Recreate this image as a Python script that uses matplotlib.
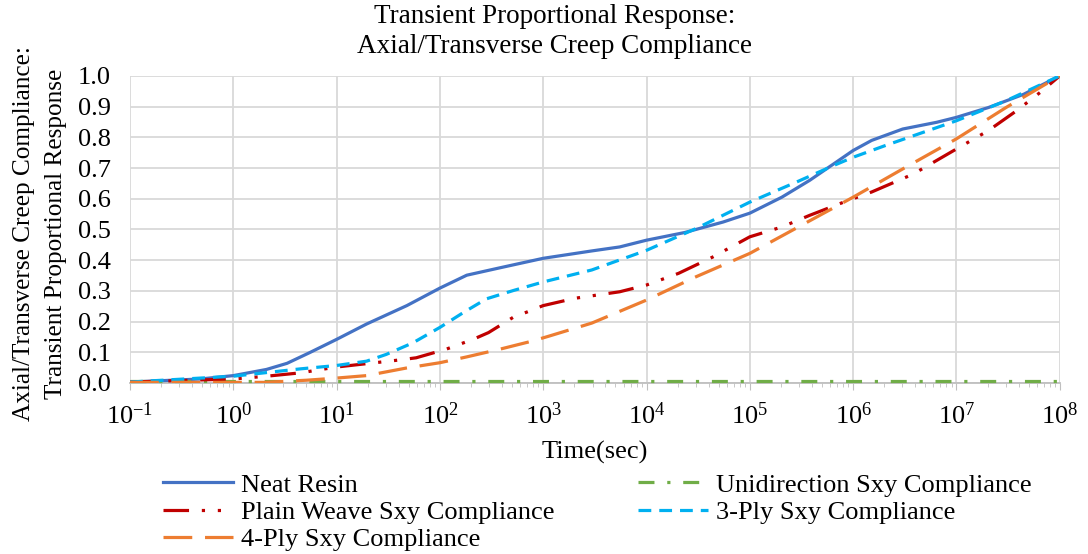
import numpy as np
import matplotlib.pyplot as plt
from matplotlib.ticker import LogLocator, FixedLocator, FuncFormatter, NullFormatter

plt.rcParams['font.family'] = ['Liberation Serif', 'DejaVu Serif']
plt.rcParams['mathtext.fontset'] = 'custom'
plt.rcParams['mathtext.rm'] = 'Liberation Serif'
plt.rcParams['mathtext.it'] = 'Liberation Serif'

# log10 of time (sec) and transient proportional response for each material
neat_logt = [-1, -0.32, 0, 0.32, 0.52, 0.74, 1, 1.29, 1.68, 2, 2.26, 2.58, 2.81, 3,
             3.47, 3.74, 4, 4.37, 4.74, 5, 5.31, 5.58, 5.81, 6, 6.18, 6.48, 6.81, 7,
             7.31, 7.65, 8]
neat_resp = [0.003, 0.013, 0.024, 0.044, 0.064, 0.099, 0.142, 0.192, 0.252, 0.309,
             0.351, 0.375, 0.392, 0.406, 0.43, 0.443, 0.465, 0.49, 0.524, 0.553, 0.605,
             0.66, 0.713, 0.757, 0.79, 0.827, 0.849, 0.865, 0.897, 0.94, 1.0]

uni_logt = [-1, 0, 1, 2, 3, 4, 5, 6, 7, 8]
uni_resp = [0.005, 0.005, 0.005, 0.005, 0.005, 0.005, 0.005, 0.005, 0.005, 0.005]

plain_logt = [-1, 0, 0.32, 0.65, 1, 1.32, 1.61, 1.77, 2.06, 2.32, 2.47, 2.71, 2.85, 3,
              3.31, 3.74, 4, 4.31, 4.64, 5, 5.31, 5.58, 5.91, 6.18, 6.58, 7, 7.31,
              7.58, 7.81, 8]
plain_resp = [0.003, 0.013, 0.022, 0.033, 0.052, 0.064, 0.075, 0.082, 0.11, 0.142,
              0.164, 0.214, 0.232, 0.252, 0.276, 0.297, 0.319, 0.357, 0.41, 0.476,
              0.508, 0.546, 0.589, 0.622, 0.68, 0.762, 0.822, 0.886, 0.946, 1.0]

ply3_logt = [-1, 0, 0.65, 1, 1.29, 1.48, 1.74, 2, 2.23, 2.45, 2.71, 3, 3.47, 4, 4.48,
             5, 5.47, 5.81, 6, 6.31, 7, 7.48, 8]
ply3_resp = [0.003, 0.022, 0.046, 0.057, 0.071, 0.093, 0.131, 0.181, 0.23, 0.274,
             0.301, 0.329, 0.368, 0.432, 0.503, 0.589, 0.657, 0.708, 0.735, 0.773,
             0.854, 0.919, 1.0]

ply4_logt = [-1, 0.3, 0.71, 1, 1.29, 1.68, 2, 2.26, 2.58, 2.9, 3.06, 3.47, 4, 4.48, 5,
             5.47, 6, 6.48, 7, 7.48, 8]
ply4_resp = [0.002, 0.002, 0.009, 0.016, 0.024, 0.049, 0.066, 0.085, 0.11, 0.137,
             0.153, 0.195, 0.27, 0.346, 0.422, 0.508, 0.605, 0.697, 0.795, 0.897, 1.0]

fig = plt.figure(figsize=(10.88, 5.54), dpi=100)
ax = fig.add_axes([0.1195, 0.3087, 0.8545, 0.5543])

lw = 2.3
l_neat, = ax.plot(np.power(10.0, neat_logt), neat_resp, color='#4472C4', lw=lw,
                  label='Neat Resin', zorder=3)
l_uni, = ax.plot(np.power(10.0, uni_logt), uni_resp, color='#70AD47', lw=lw,
                 linestyle=(0, (5, 4, 1, 4)), label='Unidirection Sxy Compliance',
                 zorder=3, clip_on=False)
l_plain, = ax.plot(np.power(10.0, plain_logt), plain_resp, color='#C00000', lw=lw,
                   linestyle=(0, (8, 4, 1, 4, 1, 4)), label='Plain Weave Sxy Compliance',
                   zorder=3)
l_3, = ax.plot(np.power(10.0, ply3_logt), ply3_resp, color='#00B0F0', lw=lw,
               linestyle=(0, (4, 2.5)), label='3-Ply Sxy Compliance', zorder=3)
l_4, = ax.plot(np.power(10.0, ply4_logt), ply4_resp, color='#ED7D31', lw=lw,
               linestyle=(0, (9, 4)), label='4-Ply Sxy Compliance', zorder=3)

ax.set_xscale('log')
ax.set_xlim(1e-1, 1e8)
ax.set_ylim(0, 1.0)
ax.xaxis.set_major_locator(LogLocator(base=10, numticks=20))
ax.xaxis.set_minor_locator(LogLocator(base=10, subs=np.arange(2, 10), numticks=20))
ax.xaxis.set_major_formatter(FuncFormatter(
    lambda v, p: r'$\mathregular{10^{%d}}$' % int(round(np.log10(v)))))
ax.xaxis.set_minor_formatter(NullFormatter())
ax.yaxis.set_major_locator(FixedLocator(np.arange(0, 1.01, 0.1)))
ax.yaxis.set_major_formatter(FuncFormatter(lambda v, p: '%.1f' % v))

ax.grid(True, which='major', color='#D9D9D9', lw=1.3)
for s in ['top', 'right', 'left']:
    ax.spines[s].set_visible(False)
ax.spines['bottom'].set_color('#BFBFBF')
ax.spines['bottom'].set_linewidth(1.3)
ax.tick_params(axis='y', length=0, labelsize=19, pad=14)
ax.tick_params(axis='x', which='major', length=5, color='#BFBFBF', labelsize=19, pad=9)
ax.tick_params(axis='x', which='minor', length=3, color='#BFBFBF')

fig.text(0.51, 0.943, 'Transient Proportional Response:\nAxial/Transverse Creep Compliance',
         ha='center', va='center', fontsize=19.5, linespacing=1.3)
# two-line y axis title, one text per line
fig.text(24 / 1088, 0.578, 'Axial/Transverse Creep Compliance:',
         ha='center', va='center', rotation=90, fontsize=18.2)
fig.text(56 / 1088, 0.578, 'Transient Proportional Response',
         ha='center', va='center', rotation=90, fontsize=18.2)
fig.text(0.547, 1 - 452 / 554, 'Time(sec)', ha='center', va='center', fontsize=19)

fig.legend([l_neat, l_plain, l_4, l_uni, l_3],
           [l.get_label() for l in [l_neat, l_plain, l_4, l_uni, l_3]],
           ncol=2, loc='upper left', bbox_to_anchor=(0.15, 0.146), frameon=False,
           fontsize=19, handlelength=2.65, handletextpad=0.3, labelspacing=0.14,
           columnspacing=3.15, borderaxespad=0, borderpad=0)

fig.savefig('out.png', dpi=100)
